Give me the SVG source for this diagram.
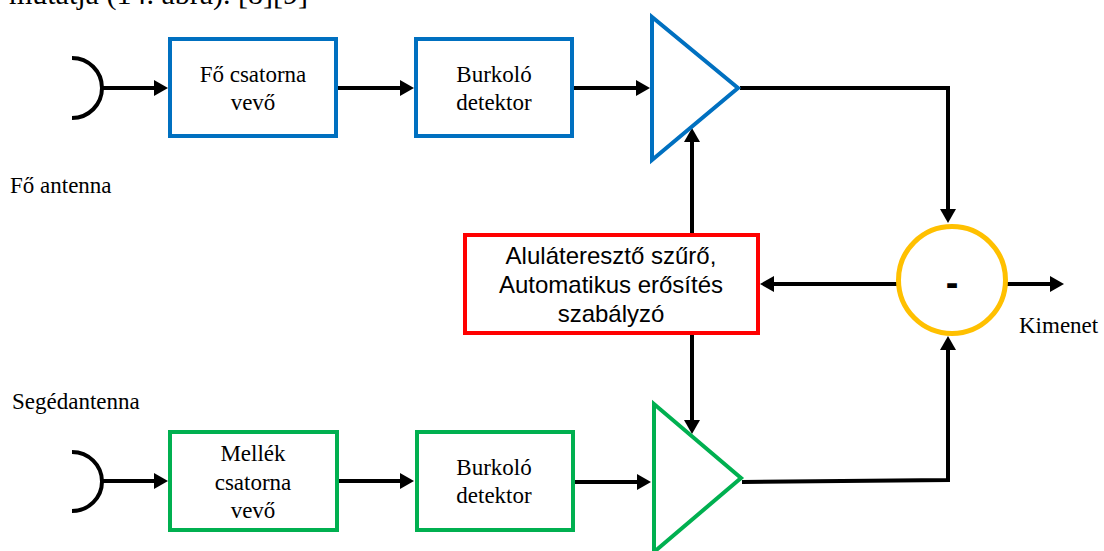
<svg xmlns="http://www.w3.org/2000/svg" width="1104" height="551" viewBox="0 0 1104 551">
<style>
.serif{font-family:"Liberation Serif","Times New Roman",serif;font-size:23px;fill:#000}
.sans{font-family:"Liberation Sans",Arial,sans-serif;font-size:24px;fill:#000}
.mid{text-anchor:middle}
.blue{fill:#fff;stroke:#0070C0;stroke-width:4}
.green{fill:#fff;stroke:#00B050;stroke-width:4}
.red{fill:#fff;stroke:#FF0000;stroke-width:4}
.sum{fill:#fff;stroke:#FFC000;stroke-width:5}
.wire{fill:none;stroke:#000;stroke-width:4}
.arr{fill:none;stroke:#000;stroke-width:4;marker-end:url(#ah)}
</style>
<defs>
<marker id="ah" markerUnits="userSpaceOnUse" markerWidth="14" markerHeight="16" refX="6" refY="8" orient="auto">
<path d="M0,0 L14,8 L0,16 Z" fill="#000"/>
</marker>
</defs>
<rect width="1104" height="551" fill="#fff"/>
<text x="308" y="4" text-anchor="end" style="font-family:'Liberation Serif','Times New Roman',serif;font-size:30px">mutatja (14. ábra). [8][9]</text>

<g id="connectors">
<path class="wire" d="M72,58 A30,30 0 0 1 72,118"/>
<path class="wire" d="M72,452 A30,29.5 0 0 1 72,511"/>
<line class="arr" x1="102" y1="88" x2="160" y2="88"/>
<line class="arr" x1="338" y1="88" x2="406" y2="88"/>
<line class="arr" x1="574" y1="88" x2="642" y2="88"/>
<polyline class="arr" points="740,88 948,88 948,215"/>
<line class="arr" x1="897" y1="284" x2="768" y2="284"/>
<line class="arr" x1="1007" y1="284" x2="1056" y2="284"/>
<line class="arr" x1="692" y1="233" x2="692" y2="136"/>
<line class="arr" x1="692" y1="335" x2="692" y2="426"/>
<line class="arr" x1="102" y1="481" x2="160" y2="481"/>
<line class="arr" x1="339" y1="481" x2="406" y2="481"/>
<line class="arr" x1="575" y1="482" x2="643" y2="482"/>
<polyline class="arr" points="742,482 948,480 948,344"/>
</g>

<g id="main-receiver">
<rect class="blue" x="170" y="39" width="166" height="97"/>
<text class="serif mid" x="253" y="82">Fő csatorna</text>
<text class="serif mid" x="253" y="110">vevő</text>
</g>
<g id="main-detector">
<rect class="blue" x="416" y="39" width="156" height="97"/>
<text class="serif mid" x="494" y="82">Burkoló</text>
<text class="serif mid" x="494" y="110">detektor</text>
</g>
<g id="main-amp">
<polygon class="blue" points="652,17 652,160 738,88"/>
</g>
<g id="agc">
<rect class="red" x="465" y="235" width="293" height="98"/>
<text class="sans mid" x="611" y="264">Aluláteresztő szűrő,</text>
<text class="sans mid" x="611" y="293">Automatikus erősítés</text>
<text class="sans mid" x="611" y="322">szabályzó</text>
</g>
<g id="subtractor">
<circle class="sum" cx="952" cy="280" r="53.5"/>
<text x="952" y="296" text-anchor="middle" style="font-family:'Liberation Sans',Arial,sans-serif;font-size:38px;font-weight:bold">-</text>
</g>
<g id="aux-receiver">
<rect class="green" x="170" y="432" width="167" height="98"/>
<text class="serif mid" x="253" y="461">Mellék</text>
<text class="serif mid" x="253" y="490">csatorna</text>
<text class="serif mid" x="253" y="518">vevő</text>
</g>
<g id="aux-detector">
<rect class="green" x="417" y="432" width="156" height="98"/>
<text class="serif mid" x="494" y="475">Burkoló</text>
<text class="serif mid" x="494" y="503">detektor</text>
</g>
<g id="aux-amp">
<polygon class="green" points="654,404 654,552 741,478"/>
</g>
<g id="labels">
<text class="serif" x="10" y="193">Fő antenna</text>
<text class="serif" x="12" y="409">Segédantenna</text>
<text class="serif" x="1019" y="333">Kimenet</text>
</g>
</svg>
